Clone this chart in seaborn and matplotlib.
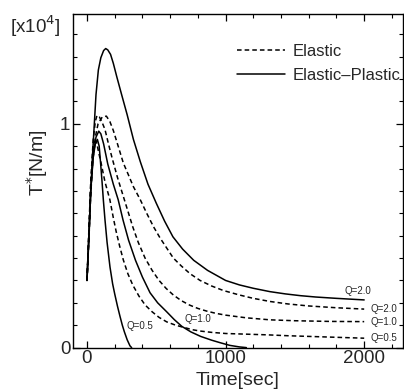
import matplotlib
matplotlib.use("Agg")
import matplotlib.pyplot as plt
from matplotlib.lines import Line2D
from matplotlib.ticker import MultipleLocator
import seaborn as sns
import pandas as pd

sns.set_theme(style="ticks")
plt.rcParams['font.family'] = ['Liberation Sans', 'DejaVu Sans']

# Time [sec] and T* [x10^4 N/m]
ep20_t = [0, 15, 27, 40, 53, 65, 82, 100, 120, 135, 150, 170, 190, 215, 250, 290, 335, 385, 440, 500,
          560, 620, 690, 770, 870, 1000, 1100, 1200, 1320, 1430, 1540, 1650, 1800, 2000]
ep20_y = [0.30, 0.50, 0.70, 0.86, 1.00, 1.13, 1.24, 1.295, 1.327, 1.336, 1.33, 1.31, 1.27, 1.21, 1.13, 1.04,
          0.93, 0.83, 0.73, 0.645, 0.565, 0.495, 0.44, 0.39, 0.345, 0.30, 0.28, 0.265, 0.25, 0.24, 0.232,
          0.226, 0.22, 0.213]

ep10_t = [0, 15, 27, 45, 65, 85, 100, 120, 150, 190, 225, 260, 300, 350, 400, 455, 510, 575, 630, 684,
          750, 820, 900, 960, 1030, 1100, 1150]
ep10_y = [0.30, 0.52, 0.70, 0.86, 0.94, 0.967, 0.955, 0.91, 0.82, 0.73, 0.661, 0.57, 0.48, 0.39, 0.315,
          0.245, 0.20, 0.16, 0.125, 0.095, 0.07, 0.05, 0.033, 0.022, 0.01, 0.003, 0.0]

ep05_t = [0, 15, 27, 45, 60, 75, 88, 100, 110, 118, 130, 145, 166, 185, 200, 220, 238, 255, 270, 290, 310, 322]
ep05_y = [0.30, 0.52, 0.70, 0.85, 0.91, 0.93, 0.90, 0.81, 0.73, 0.66, 0.57, 0.47, 0.36, 0.285, 0.24, 0.185,
          0.14, 0.10, 0.07, 0.035, 0.008, 0.0]

e20_t = [0, 15, 27, 40, 60, 80, 110, 140, 165, 190, 225, 262, 300, 334, 385, 431, 480, 527, 575, 623, 680,
         744, 816, 900, 984, 1100, 1200, 1321, 1450, 1600, 1800, 2000]
e20_y = [0.30, 0.50, 0.68, 0.82, 0.94, 1.0, 1.03, 1.034, 1.01, 0.97, 0.90, 0.825, 0.77, 0.72, 0.66, 0.60,
         0.54, 0.49, 0.445, 0.40, 0.365, 0.33, 0.30, 0.275, 0.255, 0.235, 0.22, 0.206, 0.195, 0.186, 0.178, 0.172]

e10_t = [0, 15, 27, 45, 60, 72, 90, 110, 130, 155, 180, 220, 262, 300, 330, 370, 419, 470, 520, 570, 623,
         680, 740, 800, 864, 930, 1000, 1150, 1321, 1500, 1750, 2000]
e10_y = [0.30, 0.55, 0.74, 0.93, 1.01, 1.037, 1.03, 1.005, 0.974, 0.91, 0.85, 0.76, 0.676, 0.60, 0.54, 0.47,
         0.40, 0.345, 0.30, 0.265, 0.235, 0.21, 0.19, 0.175, 0.163, 0.153, 0.145, 0.133, 0.124, 0.12, 0.117, 0.116]

e05_t = [0, 15, 27, 40, 55, 70, 85, 100, 130, 165, 190, 210, 235, 262, 295, 330, 375, 420, 470, 520, 575,
         640, 700, 760, 816, 900, 1000, 1150, 1300, 1450, 1600, 1800, 2000]
e05_y = [0.30, 0.53, 0.72, 0.85, 0.92, 0.915, 0.87, 0.83, 0.74, 0.661, 0.58, 0.52, 0.455, 0.392, 0.33, 0.28,
         0.23, 0.19, 0.16, 0.135, 0.115, 0.10, 0.09, 0.08, 0.074, 0.068, 0.063, 0.06, 0.057, 0.053, 0.05,
         0.046, 0.042]

series = [
    ("Elastic-Plastic", "2.0", ep20_t, ep20_y),
    ("Elastic-Plastic", "1.0", ep10_t, ep10_y),
    ("Elastic-Plastic", "0.5", ep05_t, ep05_y),
    ("Elastic", "2.0", e20_t, e20_y),
    ("Elastic", "1.0", e10_t, e10_y),
    ("Elastic", "0.5", e05_t, e05_y),
]

frames = []
for model, q, t, y in series:
    frames.append(pd.DataFrame({"time": t, "T": y, "model": model, "Q": q}))
df = pd.concat(frames, ignore_index=True)

fig = plt.figure(figsize=(4.04, 3.91), dpi=100)
ax = fig.add_axes([0.181, 0.111, 0.8165, 0.853])

for (model, q), sub in df.groupby(["model", "Q"]):
    ls = (0, (3, 2)) if model == "Elastic" else "-"
    sns.lineplot(data=sub, x="time", y="T", ax=ax, color="black", lw=1.1,
                 linestyle=ls, sort=False, estimator=None, legend=False)

ax.set_xlim(-100, 2280)
ax.set_ylim(0, 1.49)
ax.xaxis.set_major_locator(MultipleLocator(1000))
ax.xaxis.set_minor_locator(MultipleLocator(200))
ax.yaxis.set_major_locator(MultipleLocator(1))
ax.yaxis.set_minor_locator(MultipleLocator(0.1))
ax.tick_params(which="both", direction="in", top=True, right=True, color="black")
ax.tick_params(which="major", length=5, width=0.9, labelsize=13.5, pad=2)
ax.tick_params(which="minor", length=3, width=0.8)
for s in ax.spines.values():
    s.set_linewidth(1.0)
    s.set_color("black")

ax.set_xlabel("Time[sec]", fontsize=14, labelpad=3)
ax.set_ylabel("T$^{*}$[N/m]", fontsize=14)
ax.yaxis.set_label_coords(-0.07, 0.555)
fig.text(0.025, 0.965, "[x10$^{4}$]", fontsize=13.5, va="top", ha="left")

# curve labels
ax.text(1860, 0.232, "Q=2.0", fontsize=7, ha="left", va="bottom")
ax.text(2045, 0.172, "Q=2.0", fontsize=7, ha="left", va="center")
ax.text(2045, 0.116, "Q=1.0", fontsize=7, ha="left", va="center")
ax.text(2045, 0.045, "Q=0.5", fontsize=7, ha="left", va="center")
ax.text(700, 0.105, "Q=1.0", fontsize=7, ha="left", va="bottom")
ax.text(285, 0.075, "Q=0.5", fontsize=7, ha="left", va="bottom")

handles = [Line2D([], [], color="black", lw=1.1, linestyle=(0, (3, 2))),
           Line2D([], [], color="black", lw=1.1, linestyle="-")]
ax.legend(handles, ["Elastic", "Elastic\u2013Plastic"], loc="upper right",
          bbox_to_anchor=(1.012, 0.93), frameon=False, fontsize=12,
          handlelength=2.9, handletextpad=0.45, labelspacing=0.55, borderaxespad=0.0)

fig.savefig("out.png", dpi=100)
